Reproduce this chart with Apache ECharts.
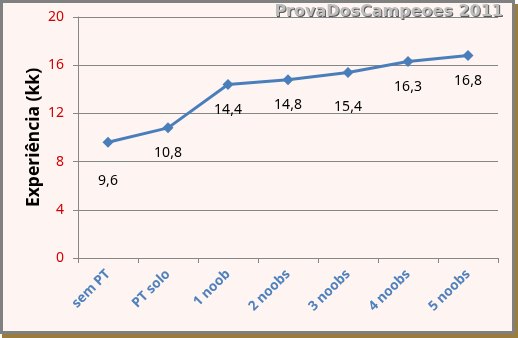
<!DOCTYPE html>
<html>
<head>
<meta charset="utf-8">
<script src="https://cdn.jsdelivr.net/npm/echarts@6/dist/echarts.min.js"></script>
<style>
  html, body { margin: 0; padding: 0; width: 518px; height: 338px; overflow: hidden; background: #ffffff; }
  #shadow { position: absolute; left: 2px; top: 4px; width: 516px; height: 334px; background: #9a7d3c; }
  #frame { position: absolute; left: 0; top: 0; width: 515px; height: 334px; background: #808080; }
  #panel { position: absolute; left: 3px; top: 3px; width: 509px; height: 328px; background: #fef4f2; }
  #chart { position: absolute; left: 0; top: 0; width: 518px; height: 338px; }
</style>
</head>
<body>
<div id="shadow"></div>
<div id="frame"></div>
<div id="panel"></div>
<div id="chart"></div>
<script>
// Experience per party setup (in kk)
const categories = ['sem PT', 'PT solo', '1 noob', '2 noobs', '3 noobs', '4 noobs', '5 noobs'];
const experience = [9.6, 10.8, 14.4, 14.8, 15.4, 16.3, 16.8];
const yTicks = { min: 0, max: 20, interval: 4 };

// a couple of labels sit lower so they stay clear of the line
const labelDistance = i => (i === 0 ? 26 : i === 4 ? 22 : 13);

const stampText = 'ProvaDosCampeoes 2011';
const stampFont = 'bold 16px "DejaVu Sans"';

const chart = echarts.init(document.getElementById('chart'), null, { renderer: 'canvas' });

chart.setOption({
  backgroundColor: 'transparent',
  animation: false,
  grid: { left: 78, right: 20, top: 17, bottom: 80, containLabel: false },
  graphic: [
    // dark engraved edge
    { type: 'text', right: 14, top: 5, z: 10,
      style: { text: stampText, font: stampFont, fill: '#5a5a5a' } },
    // light face
    { type: 'text', right: 15, top: 4, z: 11,
      style: { text: stampText, font: stampFont, fill: '#bdbdbd' } }
  ],
  xAxis: {
    type: 'category',
    data: categories,
    boundaryGap: true,
    axisLine: { lineStyle: { color: '#868686', width: 1 } },
    axisTick: { show: true, length: 5, lineStyle: { color: '#868686' } },
    axisLabel: {
      rotate: 45,
      margin: 14,
      color: '#4f81bd',
      fontFamily: '"Noto Sans", sans-serif',
      fontWeight: 'bold',
      fontSize: 13.5
    }
  },
  yAxis: {
    type: 'value',
    min: yTicks.min,
    max: yTicks.max,
    interval: yTicks.interval,
    name: 'Experiência (kk)',
    nameLocation: 'middle',
    nameRotate: 90,
    nameGap: 35,
    nameMoveOverlap: false,
    nameTextStyle: {
      color: '#000000',
      fontFamily: '"Noto Sans", sans-serif',
      fontWeight: 'bold',
      fontSize: 17.5
    },
    axisLine: { show: true, lineStyle: { color: '#868686', width: 1 } },
    axisTick: { show: true, length: 5, lineStyle: { color: '#868686' } },
    splitLine: { show: true, lineStyle: { color: '#868686', width: 1 } },
    axisLabel: {
      margin: 14,
      color: '#d00000',
      fontFamily: '"Noto Sans", sans-serif',
      fontSize: 14
    }
  },
  series: [{
    type: 'line',
    data: experience.map((v, i) => ({
      value: v,
      label: { distance: labelDistance(i) }
    })),
    symbol: 'diamond',
    symbolSize: 11,
    lineStyle: { color: '#4a7ebb', width: 3 },
    itemStyle: { color: '#4a7ebb' },
    label: {
      show: true,
      position: 'bottom',
      color: '#000000',
      fontFamily: '"Noto Sans", sans-serif',
      fontSize: 14,
      formatter: p => String(p.value).replace('.', ',')
    }
  }]
});
</script>
</body>
</html>
